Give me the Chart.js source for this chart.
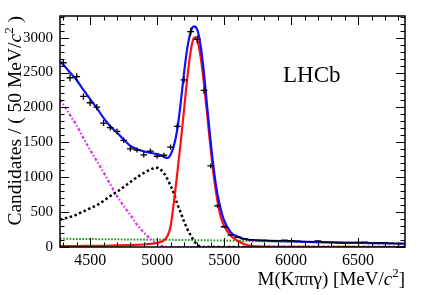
<!DOCTYPE html>
<html>
<head>
<meta charset="utf-8">
<script src="https://cdn.jsdelivr.net/npm/chart.js@4/dist/chart.umd.min.js"></script>
<style>
  html, body { margin: 0; padding: 0; background: #fff; }
  canvas { display: block; }
</style>
</head>
<body>
<canvas id="massPlot" width="427" height="295"></canvas>
<script>
// data points (bin centres, 50 MeV bins)
const massBins = [4300, 4350, 4400, 4450, 4500, 4550, 4600, 4650, 4700, 4750, 4800, 4850, 4900, 4950,
  5000, 5050, 5100, 5150, 5200, 5250, 5300, 5350, 5400, 5450, 5500, 5550, 5600, 5650, 5700, 5750,
  5800, 5850, 5900, 5950, 6000, 6050, 6100, 6150, 6200, 6250, 6300, 6350, 6400, 6450, 6500, 6550,
  6600, 6650, 6700, 6750, 6800];
const candidates = [2640, 2425, 2440, 2157, 2067, 2005, 1776, 1710, 1657, 1529, 1405, 1390, 1320, 1375,
  1300, 1315, 1430, 1729, 2395, 3086, 2976, 2243, 1162, 588, 290, 171, 140, 118, 104, 98,
  96, 92, 88, 97, 92, 84, 78, 74, 86, 70, 66, 58, 55, 62, 66, 70,
  56, 60, 63, 52, 48];
const candErr = [51, 49, 49, 46, 45, 45, 42, 41, 41, 39, 37, 37, 36, 37,
  36, 36, 38, 42, 49, 56, 55, 47, 34, 24, 17, 13, 12, 11, 10, 10,
  10, 10, 9, 10, 10, 9, 9, 9, 9, 8, 8, 8, 7, 8, 8, 8,
  7, 8, 8, 7, 7];

// total fit (blue)
const totalX = [4275, 4300, 4350, 4400, 4450, 4500, 4550, 4600, 4650, 4700, 4750, 4800, 4850, 4900, 4950,
  5000, 5050, 5075, 5100, 5125, 5150, 5175, 5200, 5225, 5250, 5275, 5300, 5325, 5350, 5375, 5400,
  5425, 5450, 5475, 5500, 5550, 5600, 5650, 5700, 5800, 6000, 6200, 6400, 6600, 6850];
const totalY = [2660, 2610, 2500, 2390, 2250, 2120, 1990, 1850, 1730, 1640, 1540, 1450, 1400, 1370, 1350,
  1330, 1295, 1275, 1320, 1450, 1680, 2050, 2480, 2850, 3080, 3160, 3110, 2880, 2480, 1980, 1500,
  1080, 760, 540, 380, 210, 150, 115, 100, 90, 80, 70, 62, 55, 48];

// signal (red)
const signalX = [4275, 4400, 4500, 4600, 4700, 4800, 4900, 4950, 5000, 5050, 5075, 5100, 5125, 5150, 5175,
  5200, 5225, 5250, 5270, 5285, 5300, 5325, 5350, 5375, 5400, 5425, 5450, 5475, 5500, 5550, 5600,
  5650, 5700, 5800, 6000, 6850];
const signalY = [12, 14, 16, 18, 22, 28, 36, 45, 58, 95, 150, 290, 640, 1050, 1480,
  1950, 2420, 2800, 2980, 3005, 2960, 2720, 2330, 1870, 1400, 980, 660, 430, 300, 160, 90,
  42, 15, 5, 2, 0];

// partially reconstructed background (black dotted)
const partRecoX = [4275, 4300, 4350, 4400, 4450, 4500, 4550, 4600, 4650, 4700, 4750, 4800, 4850, 4900, 4950,
  4975, 5000, 5025, 5050, 5075, 5100, 5125, 5150, 5175, 5200, 5225, 5250, 5275, 5300, 5325, 5350, 6850];
const partRecoY = [395, 405, 430, 465, 510, 555, 600, 660, 730, 790, 860, 930, 1000, 1060, 1110,
  1130, 1135, 1110, 1060, 980, 880, 770, 620, 500, 370, 260, 170, 90, 30, 8, 0, 0];

// low-mass background (magenta dash-dot)
const lowMassX = [4275, 4300, 4350, 4400, 4450, 4500, 4550, 4600, 4650, 4700, 4750, 4800, 4850, 4900, 4950,
  5000, 5050, 5080, 6850];
const lowMassY = [2110, 2040, 1890, 1740, 1560, 1390, 1230, 1070, 900, 730, 590, 460, 320, 210, 115,
  45, 8, 0, 0];

// combinatorial (green dotted)
const combX = [4275, 4800, 5300, 5800, 6300, 6850];
const combY = [118, 108, 98, 82, 65, 48];

const xTicks = [4500, 5000, 5500, 6000, 6500];
const yTicks = [0, 500, 1000, 1500, 2000, 2500, 3000];

const serif = "'Liberation Serif', 'DejaVu Serif', serif";

function pairs(xs, ys) {
  return xs.map((x, i) => ({ x: x, y: ys[i] }));
}

function curve(xs, ys, color, width, dash, order) {
  return {
    type: 'line',
    data: pairs(xs, ys),
    borderColor: color,
    borderWidth: width,
    borderDash: dash,
    pointRadius: 0,
    cubicInterpolationMode: 'monotone',
    fill: false,
    order: order
  };
}

// draws text pieces right-aligned at (xr, base)
function drawRich(ctx, parts, xr, base) {
  let total = 0;
  parts.forEach(p => { ctx.font = p[1] + ' ' + serif; total += ctx.measureText(p[0]).width; });
  let cx = xr - total;
  ctx.textAlign = 'left';
  parts.forEach(p => {
    ctx.font = p[1] + ' ' + serif;
    ctx.fillText(p[0], cx, base + (p[2] || 0));
    cx += ctx.measureText(p[0]).width;
  });
}

// ROOT-like frame, inward ticks, error bars and text
const decorations = {
  id: 'decorations',
  afterDatasetsDraw(chart) {
    const { ctx, chartArea: a, scales: { x, y } } = chart;
    ctx.save();

    // data points with error bars
    ctx.strokeStyle = '#000';
    ctx.lineWidth = 1.3;
    ctx.beginPath();
    massBins.forEach((m, i) => {
      const px = x.getPixelForValue(m);
      const py = y.getPixelForValue(candidates[i]);
      ctx.moveTo(x.getPixelForValue(m - 25), py);
      ctx.lineTo(x.getPixelForValue(m + 25), py);
      ctx.moveTo(px, y.getPixelForValue(candidates[i] - candErr[i]));
      ctx.lineTo(px, y.getPixelForValue(candidates[i] + candErr[i]));
    });
    ctx.stroke();

    // frame
    ctx.lineWidth = 1.5;
    ctx.strokeRect(a.left, a.top, a.width, a.height);

    // ticks
    ctx.lineWidth = 1;
    ctx.beginPath();
    for (let v = 4300; v <= 6800; v += 100) {
      const px = Math.round(x.getPixelForValue(v)) + 0.5;
      const len = v % 500 === 0 ? 9 : 4.5;
      ctx.moveTo(px, a.bottom); ctx.lineTo(px, a.bottom - len);
      ctx.moveTo(px, a.top); ctx.lineTo(px, a.top + len);
    }
    for (let v = 0; v <= 3300; v += 100) {
      const py = Math.round(y.getPixelForValue(v)) + 0.5;
      const len = v % 500 === 0 ? 9 : 4.5;
      ctx.moveTo(a.left, py); ctx.lineTo(a.left + len, py);
      ctx.moveTo(a.right, py); ctx.lineTo(a.right - len, py);
    }
    ctx.stroke();

    ctx.fillStyle = '#000';
    ctx.textBaseline = 'alphabetic';

    // LHCb label
    ctx.font = '23px ' + serif;
    ctx.textAlign = 'left';
    ctx.fillText('LHCb', 283, 82);

    // x title: M(Kππγ) [MeV/c²]
    drawRich(ctx, [
      ['M(Kππγ) [MeV/', '19px'],
      ['c', 'italic 19px'],
      ['2', '13px', -8],
      [']', '19px']
    ], 405, 285);

    // y title: Candidates / ( 50 MeV/c² )
    ctx.save();
    ctx.translate(21, 16);
    ctx.rotate(-Math.PI / 2);
    drawRich(ctx, [
      ['Candidates / ( 50 MeV/', '19.5px'],
      ['c', 'italic 19.5px'],
      ['2', '13px', -8],
      [' )', '19.5px']
    ], 0, 0);
    ctx.restore();

    ctx.restore();
  }
};

const chart = new Chart(document.getElementById('massPlot').getContext('2d'), {
  data: {
    datasets: [
      curve(totalX, totalY, '#1010ff', 2.2, [], 1),
      curve(signalX, signalY, '#ff1010', 2.2, [], 2),
      curve(partRecoX, partRecoY, '#000000', 2.5, [2.5, 2.5], 3),
      curve(lowMassX, lowMassY, '#dd30ee', 2.2, [3, 2, 1.5, 2], 4),
      curve(combX, combY, '#1a9a1a', 2, [1.6, 1.6], 5)
    ]
  },
  options: {
    responsive: false,
    animation: false,
    devicePixelRatio: 1,
    layout: { padding: { left: 0, right: 22, top: 15, bottom: 0 } },
    plugins: { legend: { display: false }, tooltip: { enabled: false } },
    scales: {
      x: {
        type: 'linear',
        min: 4275,
        max: 6850,
        grid: { display: false, drawTicks: false },
        border: { display: false },
        afterBuildTicks: s => { s.ticks = xTicks.map(v => ({ value: v })); },
        afterFit: s => { s.height = 48; },
        ticks: { color: '#000', padding: 4, maxRotation: 0, callback: v => String(v),
          font: { family: serif, size: 16 } }
      },
      y: {
        type: 'linear',
        min: 0,
        max: 3310,
        grid: { display: false, drawTicks: false },
        border: { display: false },
        afterBuildTicks: s => { s.ticks = yTicks.map(v => ({ value: v })); },
        afterFit: s => { s.width = 60; },
        ticks: { color: '#000', padding: 7, callback: v => String(v),
          font: { family: serif, size: 15 } }
      }
    }
  },
  plugins: [decorations]
});
</script>
</body>
</html>
